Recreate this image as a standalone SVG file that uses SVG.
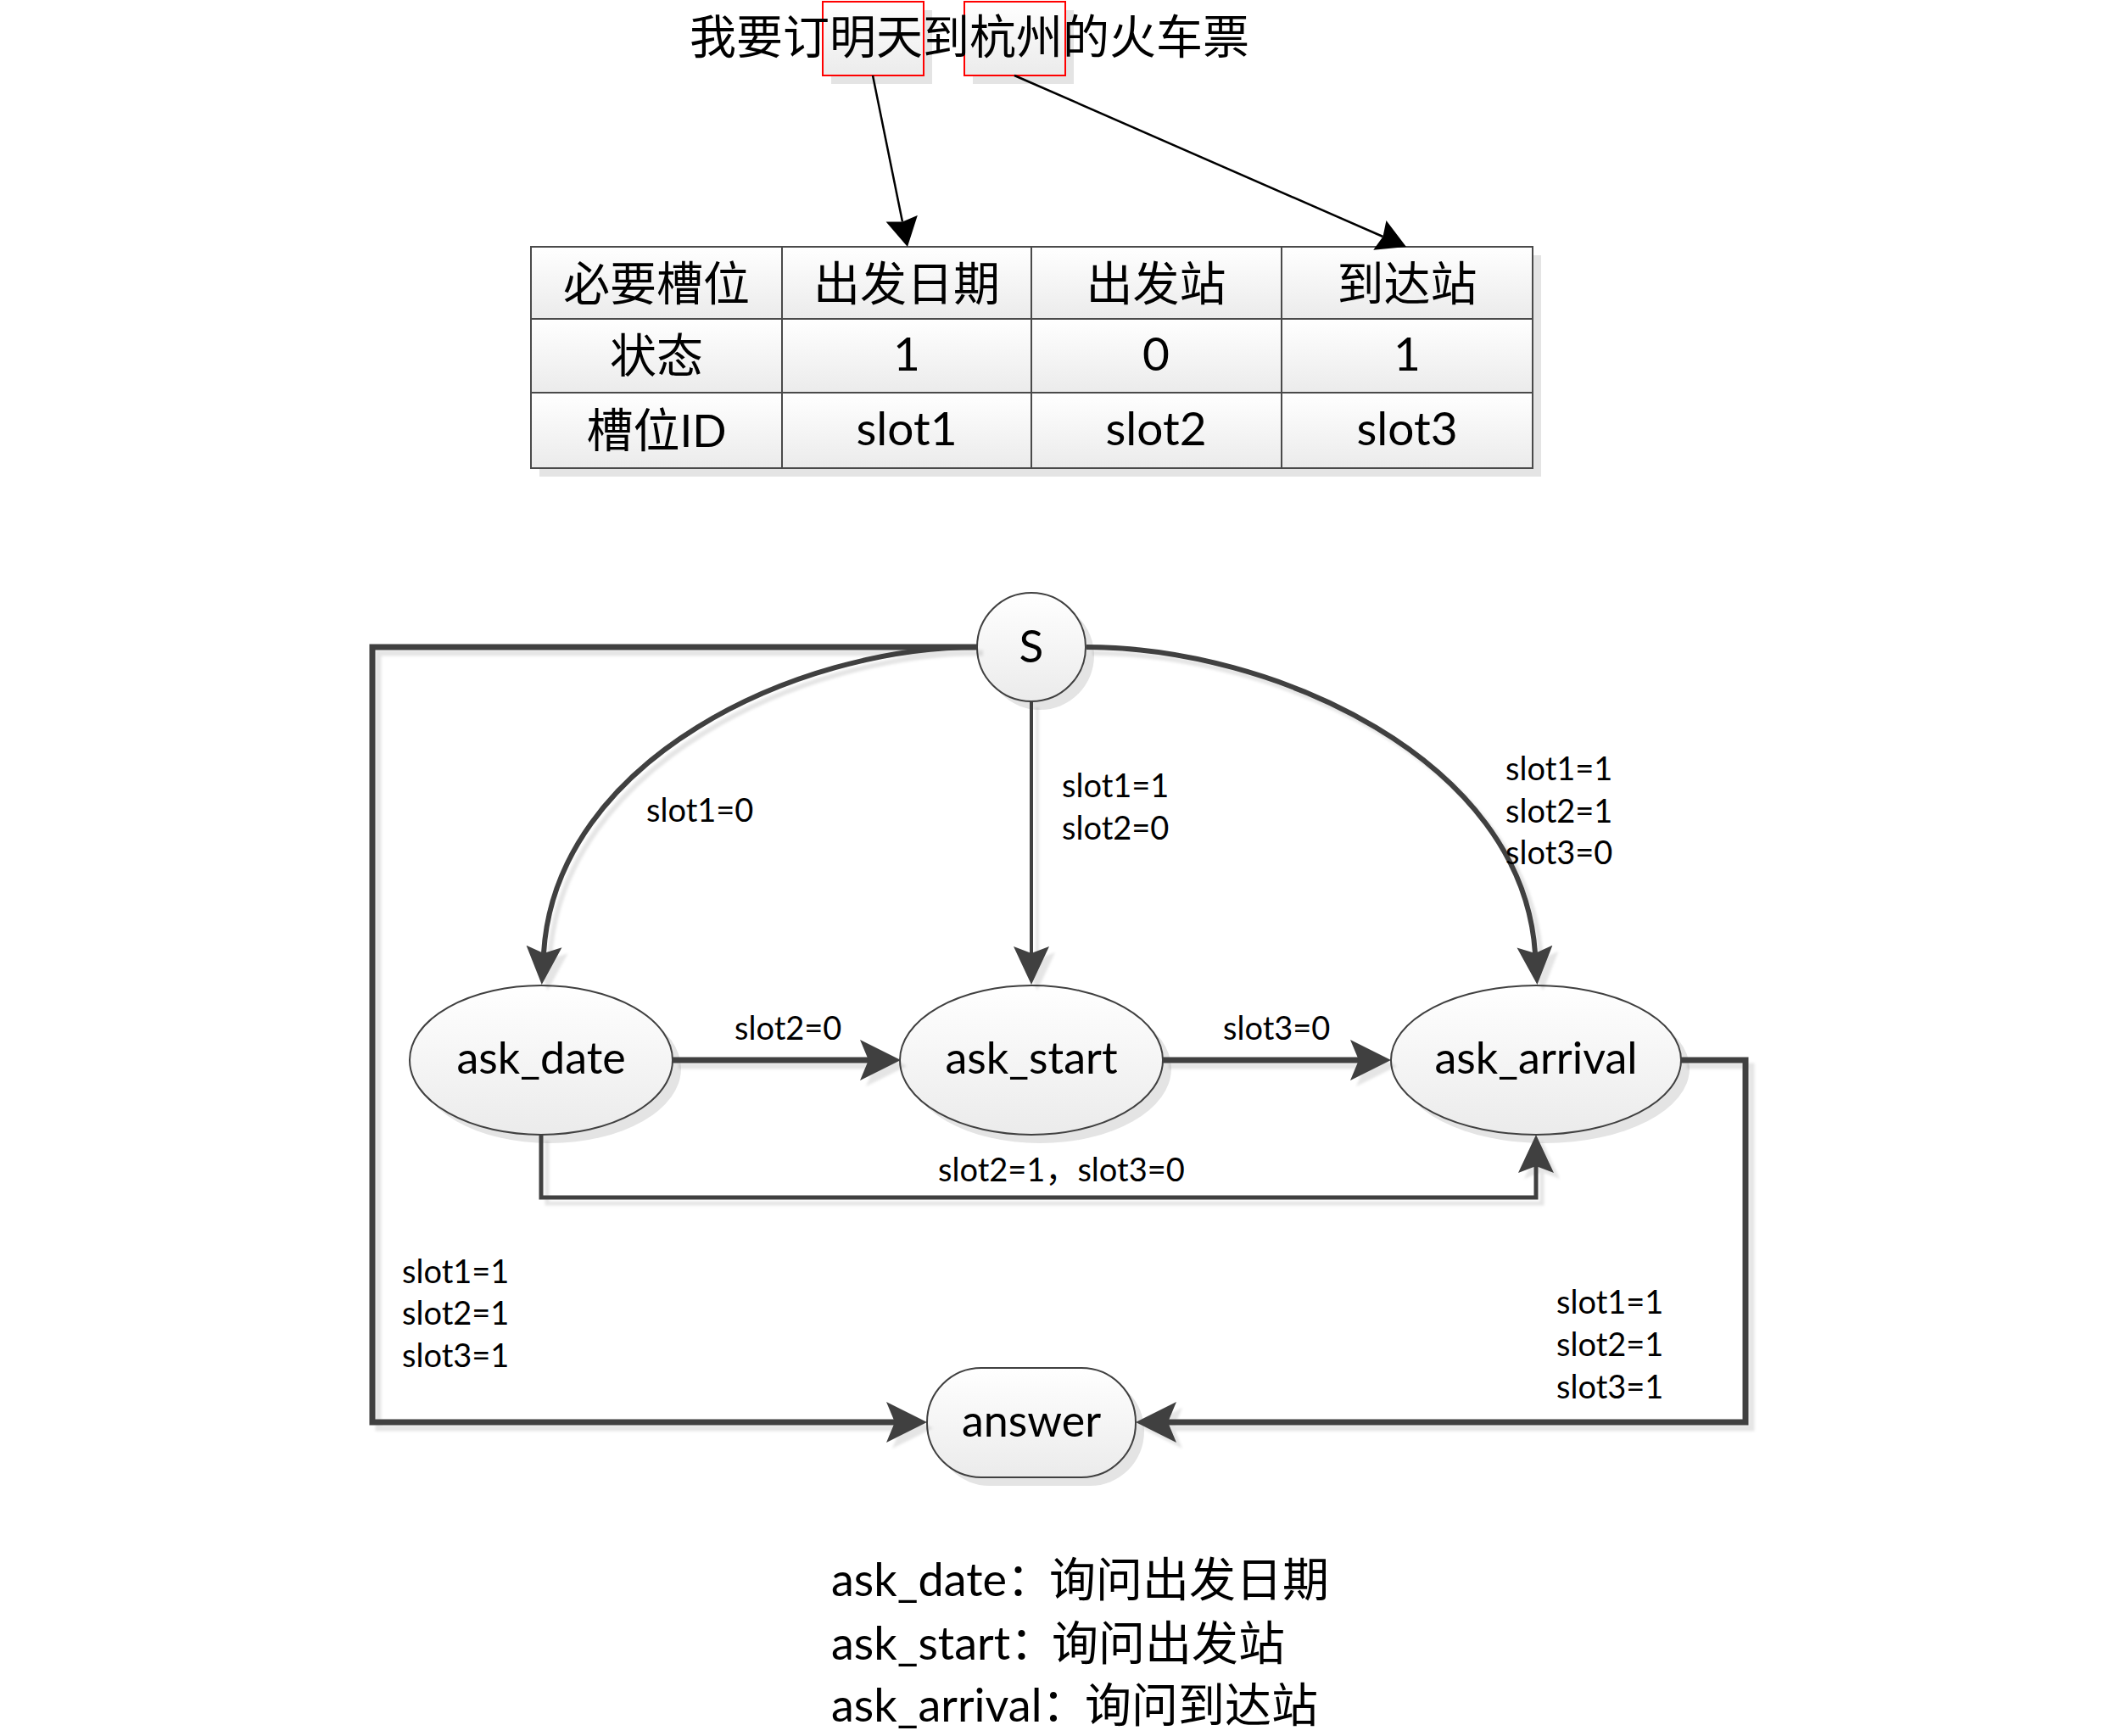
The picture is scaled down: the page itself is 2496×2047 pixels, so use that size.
<svg xmlns="http://www.w3.org/2000/svg" width="2496" height="2047" viewBox="0 0 2496 2047">
<defs>
<style>
.cjk{font-family:"Noto Sans CJK SC","Noto Sans CJK JP",sans-serif;fill:#000}
.lat{font-family:Lato,"Noto Sans",sans-serif;fill:#000}
.cell{fill:url(#gr);stroke:#4a4a4a;stroke-width:2}
.node{fill:url(#gr);stroke:#404040;stroke-width:2}
.sh{fill:#e4e4e4}
.edge{fill:none;stroke:#404040;stroke-linejoin:miter}
.lbl{font-size:38px}
.ptr{fill:none;stroke:#000;stroke-width:2.5}
</style>
<linearGradient id="gr" x1="0" y1="0" x2="0" y2="1">
<stop offset="0" stop-color="#ffffff"/>
<stop offset="1" stop-color="#ebebeb"/>
</linearGradient>
<filter id="esh" x="-10%" y="-10%" width="130%" height="130%">
<feDropShadow dx="7" dy="7" stdDeviation="1.5" flood-color="#000" flood-opacity="0.1"/>
</filter>
<marker id="aB" markerUnits="userSpaceOnUse" viewBox="0 -26 50 52" refX="10" refY="0" markerWidth="50" markerHeight="52" orient="auto">
<path d="M0,-24 L48,0 L0,24 L10,0 Z" fill="#404040"/>
</marker>
<marker id="aM" markerUnits="userSpaceOnUse" viewBox="0 -23 47 46" refX="8" refY="0" markerWidth="47" markerHeight="46" orient="auto">
<path d="M0,-21 L45,0 L0,21 L8,0 Z" fill="#404040"/>
</marker>
<marker id="aK" markerUnits="userSpaceOnUse" viewBox="0 -20 36 40" refX="4" refY="0" markerWidth="36" markerHeight="40" orient="auto">
<path d="M0,-19 L34,0 L0,19 L4,0 Z" fill="#000"/>
</marker>
</defs>
<rect width="2496" height="2047" fill="#fff"/>

<!-- sentence with highlighted slots -->
<g id="sentence">
<rect class="sh" x="980" y="12" width="119" height="87"/>
<rect class="sh" x="1147" y="12" width="119" height="87"/>
<rect x="970" y="2" width="119" height="87" fill="url(#gr)" stroke="#ff0000" stroke-width="2"/>
<rect x="1137" y="2" width="119" height="87" fill="url(#gr)" stroke="#ff0000" stroke-width="2"/>
<text class="cjk" x="813" y="63" font-size="55">我要订明天到杭州的火车票</text>
</g>

<!-- slot table -->
<g id="slot-table">
<rect class="sh" x="636" y="301" width="1181" height="261"/>
<rect class="cell" x="626" y="291" width="296" height="85"/>
<rect class="cell" x="922" y="291" width="294" height="85"/>
<rect class="cell" x="1216" y="291" width="295" height="85"/>
<rect class="cell" x="1511" y="291" width="296" height="85"/>
<rect class="cell" x="626" y="376" width="296" height="87"/>
<rect class="cell" x="922" y="376" width="294" height="87"/>
<rect class="cell" x="1216" y="376" width="295" height="87"/>
<rect class="cell" x="1511" y="376" width="296" height="87"/>
<rect class="cell" x="626" y="463" width="296" height="89"/>
<rect class="cell" x="922" y="463" width="294" height="89"/>
<rect class="cell" x="1216" y="463" width="295" height="89"/>
<rect class="cell" x="1511" y="463" width="296" height="89"/>
<g text-anchor="middle" font-size="55">
<text class="cjk" x="774" y="354">必要槽位</text>
<text class="cjk" x="1069" y="354">出发日期</text>
<text class="cjk" x="1363" y="354">出发站</text>
<text class="cjk" x="1659" y="354">到达站</text>
<text class="cjk" x="774" y="439">状态</text>
<text class="lat" x="1069" y="437">1</text>
<text class="lat" x="1363" y="437">0</text>
<text class="lat" x="1659" y="437">1</text>
<text class="cjk" x="774" y="527">槽位<tspan class="lat" font-size="53">ID</tspan></text>
<text class="lat" x="1069" y="525">slot1</text>
<text class="lat" x="1363" y="525">slot2</text>
<text class="lat" x="1659" y="525">slot3</text>
</g>
</g>

<!-- pointers from sentence to table -->
<g id="pointers">
<path class="ptr" d="M1029,89 L1064,261.6" marker-end="url(#aK)"/>
<path class="ptr" d="M1196,89 L1630.5,279" marker-end="url(#aK)"/>
</g>

<!-- state nodes -->
<g id="node-S">
<circle class="sh" cx="1226" cy="773" r="64"/>
<circle class="node" cx="1216" cy="763" r="64"/>
<text class="lat" x="1216" y="781" font-size="53" text-anchor="middle">S</text>
</g>
<g id="node-ask_date">
<ellipse class="sh" cx="648" cy="1260" rx="155" ry="88"/>
<ellipse class="node" cx="638" cy="1250" rx="155" ry="88"/>
<text class="lat" x="638" y="1266" font-size="52" text-anchor="middle">ask_date</text>
</g>
<g id="node-ask_start">
<ellipse class="sh" cx="1226" cy="1260" rx="155" ry="88"/>
<ellipse class="node" cx="1216" cy="1250" rx="155" ry="88"/>
<text class="lat" x="1216" y="1266" font-size="52" text-anchor="middle">ask_start</text>
</g>
<g id="node-ask_arrival">
<ellipse class="sh" cx="1821" cy="1260" rx="171" ry="88"/>
<ellipse class="node" cx="1811" cy="1250" rx="171" ry="88"/>
<text class="lat" x="1811" y="1266" font-size="52" text-anchor="middle">ask_arrival</text>
</g>
<g id="node-answer">
<rect class="sh" x="1103" y="1623" width="246" height="129" rx="64"/>
<rect class="node" x="1093" y="1613" width="246" height="129" rx="64"/>
<text class="lat" x="1216" y="1694" font-size="52" text-anchor="middle">answer</text>
</g>

<!-- connectors -->
<g id="connectors" filter="url(#esh)">
<path class="edge" stroke-width="6" d="M1152,763 C940,763 655,895 641,1124" marker-end="url(#aM)"/>
<path class="edge" stroke-width="4" d="M1216,827 L1216,1124" marker-end="url(#aM)"/>
<path class="edge" stroke-width="6" d="M1281,763 C1500,763 1795,895 1810,1124" marker-end="url(#aM)"/>
<path class="edge" stroke-width="7" d="M793,1250 L1024,1250" marker-end="url(#aB)"/>
<path class="edge" stroke-width="7" d="M1371,1250 L1602,1250" marker-end="url(#aB)"/>
<path class="edge" stroke-width="5" d="M638,1338 L638,1412 L1811,1412 L1811,1375" marker-end="url(#aM)"/>
<path class="edge" stroke-width="7" d="M1152,763 L439,763 L439,1677 L1055,1677" marker-end="url(#aB)"/>
<path class="edge" stroke-width="7" d="M1982,1250 L2058,1250 L2058,1677 L1377,1677" marker-end="url(#aB)"/>
</g>

<!-- connector labels -->
<g id="edge-labels" class="lat lbl">
<text x="762" y="969">slot1=0</text>
<text x="1252" y="940">slot1=1</text>
<text x="1252" y="990">slot2=0</text>
<text x="1775" y="920">slot1=1</text>
<text x="1775" y="970">slot2=1</text>
<text x="1775" y="1019">slot3=0</text>
<text x="866" y="1226">slot2=0</text>
<text x="1442" y="1226">slot3=0</text>
<text x="1106" y="1393">slot2=1<tspan class="cjk">，</tspan>slot3=0</text>
<text x="474" y="1513">slot1=1</text>
<text x="474" y="1562">slot2=1</text>
<text x="474" y="1612">slot3=1</text>
<text x="1835" y="1549">slot1=1</text>
<text x="1835" y="1599">slot2=1</text>
<text x="1835" y="1649">slot3=1</text>
</g>

<!-- legend -->
<g id="legend" font-size="54">
<text x="980" y="1882"><tspan class="lat">ask_date</tspan><tspan class="cjk">：</tspan><tspan class="cjk" x="1237" font-size="55">询问出发日期</tspan></text>
<text x="980" y="1957"><tspan class="lat">ask_start</tspan><tspan class="cjk">：</tspan><tspan class="cjk" x="1240" font-size="55">询问出发站</tspan></text>
<text x="980" y="2030"><tspan class="lat">ask_arrival</tspan><tspan class="cjk">：</tspan><tspan class="cjk" x="1279" font-size="55">询问到达站</tspan></text>
</g>
</svg>
